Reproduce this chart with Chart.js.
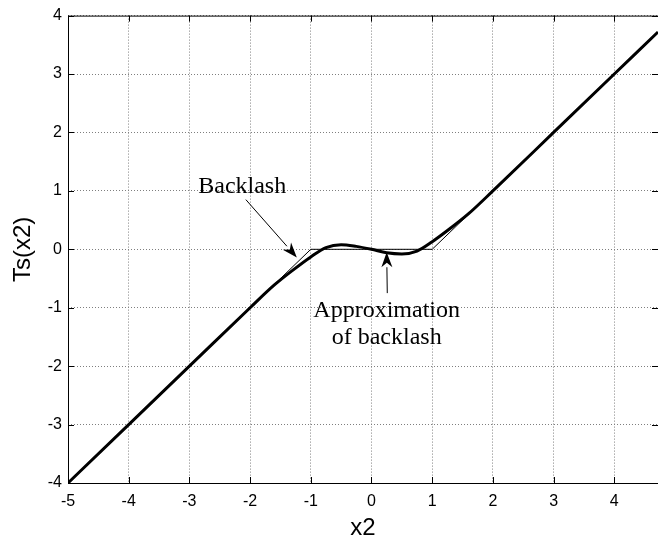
<!DOCTYPE html>
<html>
<head>
<meta charset="utf-8">
<script src="https://cdn.jsdelivr.net/npm/chart.js@4.4.1/dist/chart.umd.min.js"></script>
<style>
  html, body { margin: 0; padding: 0; background: #fff; }
  #wrap { width: 658px; height: 540px; }
</style>
</head>
<body>
<div id="wrap"><canvas id="lineChart" width="658" height="540"></canvas></div>
<script>
// backlash (thin) and its smooth approximation (thick)
var backlashX = [-5, -1, 1, 4.72];
var backlashY = [-4, 0, 0, 3.72];

var approxX = [-5, -4, -3, -2, -1.6, -1.3, -1, -0.75, -0.5, -0.25, 0, 0.25, 0.5, 0.75, 1, 1.3, 1.6, 2, 3, 4, 4.72];
var approxY = [-4, -3, -2, -1, -0.61, -0.36, -0.13, 0.03, 0.08, 0.05, 0, -0.06, -0.08, -0.03, 0.13, 0.36, 0.61, 1, 2, 3, 3.72];

var xTicks = [-5, -4, -3, -2, -1, 0, 1, 2, 3, 4];
var yTicks = [-4, -3, -2, -1, 0, 1, 2, 3, 4];

function toPoints(xs, ys) {
    return xs.map(function (x, i) { return { x: x, y: ys[i] }; });
}

// matlab style box + inward ticks + text annotations
var boxPlugin = {
    id: 'boxPlugin',
    afterDraw: function (chart) {
        var ctx = chart.ctx;
        var a = chart.chartArea;
        var sx = chart.scales.x, sy = chart.scales.y;
        ctx.save();
        ctx.strokeStyle = '#000';
        ctx.lineWidth = 1;
        ctx.setLineDash([]);
        ctx.strokeRect(a.left + 0.5, a.top + 0.5, a.right - a.left, a.bottom - a.top);
        ctx.beginPath();
        xTicks.forEach(function (v) {
            var px = Math.round(sx.getPixelForValue(v)) + 0.5;
            ctx.moveTo(px, a.bottom); ctx.lineTo(px, a.bottom - 6);
            ctx.moveTo(px, a.top); ctx.lineTo(px, a.top + 6);
        });
        yTicks.forEach(function (v) {
            var py = Math.round(sy.getPixelForValue(v)) + 0.5;
            ctx.moveTo(a.left, py); ctx.lineTo(a.left + 6, py);
            ctx.moveTo(a.right, py); ctx.lineTo(a.right - 6, py);
        });
        ctx.stroke();

        // annotations
        ctx.fillStyle = '#000';
        ctx.font = '24px "Liberation Serif"';
        ctx.textAlign = 'center';
        ctx.textBaseline = 'alphabetic';
        ctx.fillText('Backlash', sx.getPixelForValue(-2.13), sy.getPixelForValue(0.96));
        ctx.fillText('Approximation', sx.getPixelForValue(0.25), sy.getPixelForValue(-1.16));
        ctx.fillText('of backlash', sx.getPixelForValue(0.25), sy.getPixelForValue(-1.62));

        function arrow(x0, y0, x1, y1) {
            var p0x = sx.getPixelForValue(x0), p0y = sy.getPixelForValue(y0);
            var p1x = sx.getPixelForValue(x1), p1y = sy.getPixelForValue(y1);
            var ang = Math.atan2(p1y - p0y, p1x - p0x);
            var len = 15, w = 5.5;
            var bx = p1x - len * Math.cos(ang), by = p1y - len * Math.sin(ang);
            ctx.beginPath();
            ctx.moveTo(p0x, p0y);
            ctx.lineTo(bx, by);
            ctx.stroke();
            ctx.beginPath();
            ctx.moveTo(p1x, p1y);
            ctx.lineTo(bx - w * Math.sin(ang), by + w * Math.cos(ang));
            ctx.lineTo(p1x - 0.7 * len * Math.cos(ang), p1y - 0.7 * len * Math.sin(ang));
            ctx.lineTo(bx + w * Math.sin(ang), by - w * Math.cos(ang));
            ctx.closePath();
            ctx.fill();
        }
        arrow(-2.07, 0.85, -1.23, -0.14);
        arrow(0.26, -0.75, 0.25, -0.05);
        ctx.restore();
    }
};

document.addEventListener('DOMContentLoaded', function () {
    var ctx = document.getElementById('lineChart').getContext('2d');
    var myChart = new Chart(ctx, {
        type: 'scatter',
        data: {
            datasets: [{
                label: 'Backlash',
                data: toPoints(backlashX, backlashY),
                showLine: true,
                borderColor: '#000',
                borderWidth: 1,
                pointRadius: 0,
                tension: 0
            }, {
                label: 'Approximation of backlash',
                data: toPoints(approxX, approxY),
                showLine: true,
                borderColor: '#000',
                borderWidth: 3,
                pointRadius: 0,
                cubicInterpolationMode: 'monotone'
            }]
        },
        options: {
            responsive: false,
            animation: false,
            devicePixelRatio: 1,
            layout: { padding: { left: 0, top: 15, right: 0, bottom: 0 } },
            plugins: {
                legend: { display: false },
                tooltip: { enabled: false }
            },
            scales: {
                x: {
                    type: 'linear',
                    min: -5,
                    max: 4.72,
                    afterFit: function (scale) { scale.height = 57; scale.paddingRight = 0; scale.paddingLeft = 0; },
                    afterBuildTicks: function (scale) {
                        scale.ticks = xTicks.map(function (v) { return { value: v }; });
                    },
                    grid: { color: '#7f7f7f', lineWidth: 1, drawTicks: false },
                    border: { display: false, dash: [1, 2] },
                    ticks: {
                        color: '#000',
                        padding: 9,
                        font: { family: '"Liberation Sans"', size: 16 }
                    },
                    title: {
                        display: true,
                        text: 'x2',
                        color: '#000',
                        font: { family: '"Liberation Sans"', size: 24, lineHeight: 1 },
                        padding: { top: 0, bottom: 0 }
                    }
                },
                y: {
                    type: 'linear',
                    min: -4,
                    max: 4,
                    afterFit: function (scale) { scale.width = 68; },
                    afterBuildTicks: function (scale) {
                        scale.ticks = yTicks.map(function (v) { return { value: v }; });
                    },
                    grid: { color: '#7f7f7f', lineWidth: 1, drawTicks: false },
                    border: { display: false, dash: [1, 2] },
                    ticks: {
                        color: '#000',
                        padding: 6,
                        font: { family: '"Liberation Sans"', size: 16 }
                    },
                    title: {
                        display: true,
                        text: 'Ts(x2)',
                        color: '#000',
                        font: { family: '"Liberation Sans"', size: 24, lineHeight: 1 },
                        padding: { top: 11, bottom: 0 }
                    }
                }
            }
        },
        plugins: [boxPlugin]
    });
});
</script>
</body>
</html>
